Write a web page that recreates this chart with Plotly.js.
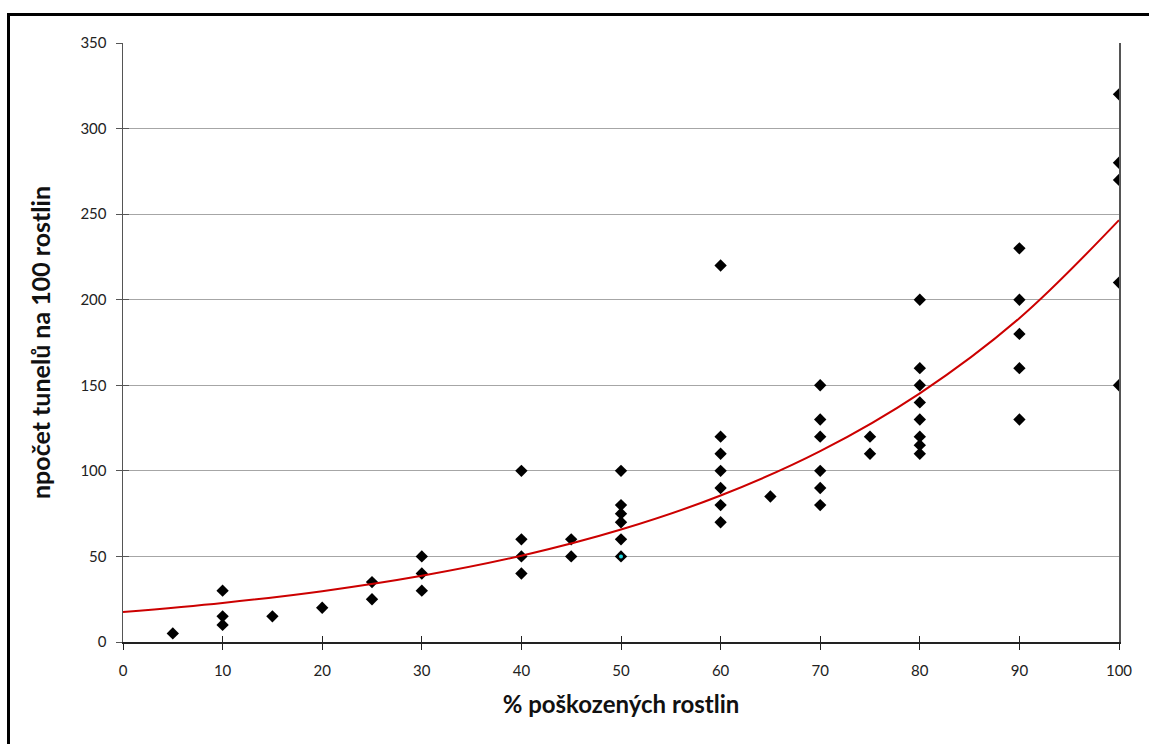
<!DOCTYPE html>
<html>
<head>
<meta charset="utf-8">
<script src="https://cdn.plot.ly/plotly-3.0.1.min.js"></script>
<style>
  html, body { margin: 0; padding: 0; background: #fff; overflow: hidden; }
  #chart { position: absolute; left: 0; top: 0; width: 1149px; height: 744px; }
  #frame { position: absolute; left: 7px; top: 13px; width: 1300px; height: 900px;
           border-left: 3px solid #000; border-top: 3px solid #000; pointer-events: none; }
</style>
</head>
<body>
<div id="chart"></div>
<div id="frame"></div>
<script>
// Observed points: % damaged plants vs. tunnels per 100 plants
const damagePct = [
  5,
  10, 10, 10,
  15,
  20,
  25, 25,
  30, 30, 30,
  40, 40, 40, 40,
  45, 45,
  50, 50, 50, 50, 50, 50,
  60, 60, 60, 60, 60, 60, 60,
  65,
  70, 70, 70, 70, 70, 70,
  75, 75,
  80, 80, 80, 80, 80, 80, 80, 80,
  90, 90, 90, 90, 90,
  100, 100, 100, 100, 100
];
const tunnels = [
  5,
  30, 15, 10,
  15,
  20,
  35, 25,
  50, 40, 30,
  100, 60, 50, 40,
  60, 50,
  100, 80, 75, 70, 60, 50,
  220, 120, 110, 100, 90, 80, 70,
  85,
  150, 130, 120, 100, 90, 80,
  120, 110,
  200, 160, 150, 140, 130, 120, 115, 110,
  230, 200, 180, 160, 130,
  320, 280, 270, 210, 150
];
// Highlighted point (cyan centre)
const highlightX = [50];
const highlightY = [50];
// Exponential trendline values
const trendX = [0, 10, 20, 30, 40, 50, 60, 70, 80, 90, 100];
const trendY = [17.5, 22.8, 29.7, 38.7, 50.4, 65.7, 85.6, 111.5, 145.3, 189.2, 246.5];

const xTicks = [0, 10, 20, 30, 40, 50, 60, 70, 80, 90, 100];
const yTicks = [0, 50, 100, 150, 200, 250, 300, 350];

const data = [
  {
    x: damagePct, y: tunnels, type: 'scatter', mode: 'markers',
    marker: { symbol: 'diamond', size: 9.5, color: '#000000', line: { width: 0 } },
    hoverinfo: 'x+y', showlegend: false
  },
  {
    x: highlightX, y: highlightY, type: 'scatter', mode: 'markers',
    marker: { symbol: 'circle', size: 4, color: '#1fd8e0', line: { width: 0 } },
    showlegend: false
  },
  {
    x: trendX, y: trendY, type: 'scatter', mode: 'lines',
    line: { color: '#cc0000', width: 2, shape: 'spline', smoothing: 1 },
    showlegend: false
  },
  // invisible trace carrying the inner half of the crossing ticks
  {
    x: [0, 100], y: [0, 0], xaxis: 'x2', yaxis: 'y2', type: 'scatter', mode: 'markers',
    marker: { opacity: 0 }, showlegend: false, hoverinfo: 'skip'
  }
];

const tickFont = { family: 'Lato, sans-serif', size: 15, color: '#222' };
const titleFont = { family: 'Lato, sans-serif', size: 24, color: '#111', weight: 'bold' };

const layout = {
  width: 1149, height: 744,
  paper_bgcolor: '#ffffff', plot_bgcolor: '#ffffff',
  margin: { l: 123, r: 30, t: 43, b: 102 },
  font: tickFont,
  xaxis: {
    range: [0, 100], tickvals: xTicks, ticktext: xTicks.map(String),
    showgrid: false, zeroline: false,
    showline: true, linecolor: '#222', linewidth: 1.5,
    ticks: 'outside', ticklen: 6, tickwidth: 1, tickcolor: '#222',
    tickfont: tickFont, ticklabelstandoff: 8,
    title: { text: '% poškozených rostlin', font: titleFont, standoff: 18 }
  },
  xaxis2: {
    range: [0, 100], overlaying: 'x', anchor: 'y2', side: 'bottom',
    tickvals: xTicks, showticklabels: false, showgrid: false, zeroline: false,
    showline: false, ticks: 'inside', ticklen: 6, tickwidth: 1, tickcolor: '#222'
  },
  yaxis: {
    range: [0, 350], tickvals: yTicks, ticktext: yTicks.map(String),
    showgrid: true, gridcolor: '#a6a6a6', gridwidth: 1,
    zeroline: false,
    showline: true, linecolor: '#555', linewidth: 1.5, mirror: true,
    ticks: 'outside', ticklen: 6, tickwidth: 1, tickcolor: '#555',
    tickfont: tickFont, ticklabelstandoff: 6,
    title: { text: 'npočet tunelů na 100 rostlin', font: Object.assign({}, titleFont, { size: 25 }), standoff: 22 }
  },
  yaxis2: {
    range: [0, 350], overlaying: 'y', anchor: 'x2', side: 'left',
    tickvals: yTicks, showticklabels: false, showgrid: false, zeroline: false,
    showline: false, ticks: 'inside', ticklen: 6, tickwidth: 1, tickcolor: '#555'
  },
  showlegend: false,
  hovermode: 'closest'
};

Plotly.newPlot('chart', data, layout, { displayModeBar: false, staticPlot: true });
</script>
</body>
</html>
